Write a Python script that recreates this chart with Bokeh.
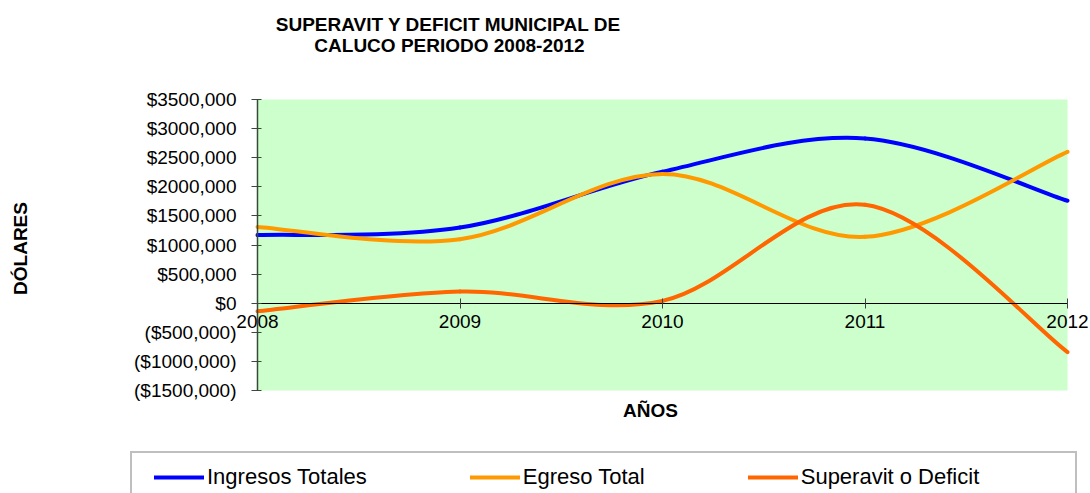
import numpy as np
from bokeh.plotting import figure
from bokeh.models import Label, Legend, LegendItem, FixedTicker, LinearAxis, Range1d
from bokeh.embed import file_html
from bokeh.resources import INLINE

# ---- data ----
years = [2008, 2009, 2010, 2011, 2012]
ingresos = [1170000, 1300000, 2260000, 2830000, 1760000]
egresos = [1310000, 1100000, 2220000, 1140000, 2600000]
superavit = [-140000, 200000, 40000, 1690000, -840000]

x_tick_labels = ["2008", "2009", "2010", "2011", "2012"]
y_ticks = [-1500000, -1000000, -500000, 0, 500000, 1000000, 1500000,
           2000000, 2500000, 3000000, 3500000]
y_tick_labels = ["($1500,000)", "($1000,000)", "($500,000)", "$0", "$500,000",
                 "$1000,000", "$1500,000", "$2000,000", "$2500,000",
                 "$3000,000", "$3500,000"]
series_names = ["Ingresos Totales", "Egreso Total", "Superavit o Deficit"]
series_colors = ["#0000FF", "#FF9900", "#FF6600"]

title_lines = ["SUPERAVIT Y DEFICIT MUNICIPAL DE", "CALUCO PERIODO 2008-2012"]
x_title = "AÑOS"
y_title = "DÓLARES"

FONT = "Liberation Sans"

# ---- layout (pixels on the canvas) ----
W, H = 1090, 493
PLOT_L, PLOT_R, PLOT_T, PLOT_B = 257, 1067, 99, 390

x_lo, x_hi = min(years), max(years)
y_lo, y_hi = min(y_ticks), max(y_ticks)
xs_per_px = (x_hi - x_lo) / (PLOT_R - PLOT_L)
ys_per_px = (y_hi - y_lo) / (PLOT_B - PLOT_T)
x_range = Range1d(x_lo - PLOT_L * xs_per_px, x_hi + (W - PLOT_R) * xs_per_px)
y_range = Range1d(y_lo - (H - PLOT_B) * ys_per_px, y_hi + PLOT_T * ys_per_px)


def smooth_segments(xs, ys):
    """Catmull-Rom style cubic Bezier segments (like Excel smoothed lines)."""
    n = len(xs)
    out = dict(x0=[], y0=[], x1=[], y1=[], cx0=[], cy0=[], cx1=[], cy1=[])
    for i in range(n - 1):
        a = max(i - 1, 0)
        b = min(i + 2, n - 1)
        out["x0"].append(xs[i]); out["y0"].append(ys[i])
        out["x1"].append(xs[i + 1]); out["y1"].append(ys[i + 1])
        out["cx0"].append(xs[i] + (xs[i + 1] - xs[a]) / 6.0)
        out["cy0"].append(ys[i] + (ys[i + 1] - ys[a]) / 6.0)
        out["cx1"].append(xs[i + 1] - (xs[b] - xs[i]) / 6.0)
        out["cy1"].append(ys[i + 1] - (ys[b] - ys[i]) / 6.0)
    return out


p = figure(width=W, height=H, output_backend="svg", toolbar_location=None,
           x_range=x_range, y_range=y_range,
           x_axis_location=None, y_axis_location=None,
           min_border=0)
p.background_fill_color = "white"
p.border_fill_color = "white"
p.outline_line_color = None
p.grid.visible = False

# plot area background
p.quad(left=[x_lo], right=[x_hi], bottom=[y_lo], top=[y_hi],
       fill_color="#CCFFCC", line_color=None)

curves = []
for ys, name, col in zip([ingresos, egresos, superavit], series_names, series_colors):
    seg = smooth_segments(years, ys)
    r = p.bezier(x0=seg["x0"], y0=seg["y0"], x1=seg["x1"], y1=seg["y1"],
                 cx0=seg["cx0"], cy0=seg["cy0"], cx1=seg["cx1"], cy1=seg["cy1"],
                 line_color=col, line_width=4, line_cap="round")
    curves.append(r)

# y axis at left edge of plot area
yax = LinearAxis(fixed_location=x_lo, bounds=(y_lo, y_hi))
yax.ticker = FixedTicker(ticks=y_ticks)
yax.major_label_overrides = {t: l for t, l in zip(y_ticks, y_tick_labels)}
yax.minor_tick_line_color = None
yax.major_tick_in = 4
yax.major_tick_out = 6
yax.axis_line_color = "#3a4a3a"
yax.major_tick_line_color = "#3a4a3a"
yax.axis_line_width = 1.5
yax.major_label_standoff = 15
yax.major_label_text_font = FONT
yax.major_label_text_font_size = "19px"
yax.major_label_text_color = "black"
p.add_layout(yax, "left")

# x axis at y = 0
xax = LinearAxis(fixed_location=0, bounds=(x_lo, x_hi))
xax.ticker = FixedTicker(ticks=years)
xax.major_label_overrides = {t: l for t, l in zip(years, x_tick_labels)}
xax.minor_tick_line_color = None
xax.major_tick_in = 5
xax.major_tick_out = 5
xax.axis_line_color = "black"
xax.major_tick_line_color = "#404040"
xax.major_label_standoff = 7
xax.major_label_text_font = FONT
xax.major_label_text_font_size = "19px"
xax.major_label_text_color = "black"
p.add_layout(xax, "below")

# titles (screen units relative to canvas bottom-left)
for txt, cx, cy in zip(title_lines, [448, 449], [24, 45]):
    p.add_layout(Label(x=cx, y=H - cy, x_units="screen", y_units="screen", text=txt,
                       text_align="center", text_baseline="middle", text_color="black",
                       text_font=FONT, text_font_size="19px", text_font_style="bold"))
p.add_layout(Label(x=650, y=H - 410, x_units="screen", y_units="screen", text=x_title,
                   text_align="center", text_baseline="middle", text_color="black",
                   text_font=FONT, text_font_size="19px", text_font_style="bold"))
p.add_layout(Label(x=20, y=H - 248, x_units="screen", y_units="screen", text=y_title,
                   angle=np.pi / 2, text_align="center", text_baseline="middle",
                   text_color="black",
                   text_font=FONT, text_font_size="19px", text_font_style="bold"))

# legend box (frame)
dummy = p.line(x=[], y=[], line_alpha=0)
box = Legend(items=[LegendItem(label=" ", renderers=[dummy])],
             location=(130, H - 501), padding=10, glyph_width=20, glyph_height=20,
             label_standoff=5, label_width=898, label_height=26,
             label_text_font=FONT, label_text_font_size="22px",
             border_line_color="#808080", border_line_width=2,
             background_fill_color="white", background_fill_alpha=1.0)
p.add_layout(box)

legend = Legend(items=[LegendItem(label=n, renderers=[r], index=0)
                       for n, r in zip(series_names, curves)],
                location=(154, H - 490), orientation="horizontal", padding=10,
                glyph_width=50, glyph_height=20, label_standoff=3, spacing=103,
                label_height=26, label_text_font=FONT, label_text_font_size="22px",
                label_text_color="black",
                border_line_color=None, background_fill_alpha=0)
p.add_layout(legend)

open("out.html", "w").write(file_html(p, INLINE))
